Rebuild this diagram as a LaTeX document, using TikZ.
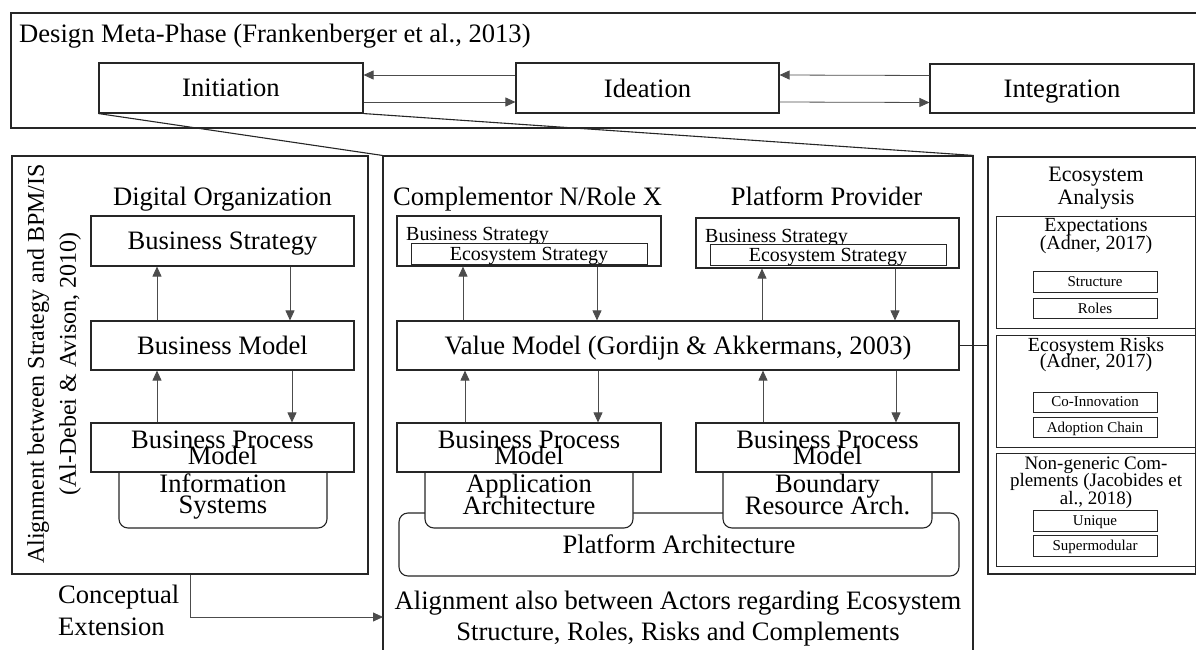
\documentclass[tikz,border=0pt]{standalone}
\usepackage{fontspec}
\setmainfont{Liberation Serif}
\usetikzlibrary{arrows.meta,positioning}
\lineskiplimit=-100pt
\tikzset{
  box/.style={draw=black!85,line width=1.1pt,fill=white,inner sep=0pt,align=center,text depth=0pt,font=\fontsize{26.6}{28}\selectfont},
  rbox/.style={box,rounded corners=9pt},
  sbox/.style={draw=black!85,line width=1pt,fill=white,inner sep=0pt,text depth=0pt,font=\fontsize{20}{22}\selectfont},
  tbox/.style={draw=black!85,line width=1pt,fill=white,inner sep=0pt,text depth=0pt,minimum width=124pt,font=\fontsize{15}{16}\selectfont},
  frame/.style={draw=black!85,line width=1.1pt,inner sep=0pt},
  arr/.style={-{Triangle[length=10pt,width=9pt]},line width=0.8pt,draw=black!70},
  lbl/.style={inner sep=0pt,font=\fontsize{26.6}{28}\selectfont},
}
\begin{document}
\begin{tikzpicture}[x=1pt,y=-1pt]
 \useasboundingbox (0,0) rectangle (1196,650);
 % ---- design meta-phase
 \node[frame,minimum width=1189pt,minimum height=115pt] (meta) at (605.5,70.5) {};
 \node[lbl,anchor=base west] (metattl) at (19,43) {Design Meta-Phase (Frankenberger et al., 2013)};
 \node[box,minimum width=264pt,minimum height=50pt] (init) at (231,88) {Initiation};
 \node[box,minimum width=263pt,minimum height=50pt] (idea) at (647.5,88) {Ideation};
 \node[box,minimum width=264pt,minimum height=49pt] (integ) at (1062,88.5) {Integration};
 \draw[arr] ([yshift=13pt]idea.west) -- ([yshift=13pt]init.east);
 \draw[arr] ([yshift=-14pt]init.east) -- ([yshift=-14pt]idea.west);
 \draw[arr] ([yshift=13pt]integ.west) -- ([yshift=13pt]idea.east);
 \draw[arr] ([yshift=-14pt]idea.east) -- ([yshift=-14pt]integ.west);
 % ---- frames
 \node[frame,minimum width=356pt,minimum height=418pt] (lft) at (190,365) {};
 \node[frame,minimum width=590pt,minimum height=544pt] (mid) at (678,428) {};
 \node[frame,minimum width=208pt,minimum height=417pt] (eco) at (1092,365.5) {};
 \draw[frame] (init.south west) -- (mid.north west);
 \draw[frame] (init.south east) -- (mid.north east);
 % ---- digital organization
 \node[lbl,rotate=90,align=center,font=\fontsize{24}{32}\selectfont] (lftttl) at (54,364) {Alignment between Strategy and BPM/IS\\(Al-Debei \& Avison, 2010)};
 \node[lbl,anchor=base] (dorg) at (222.5,205) {Digital Organization};
 \node[box,minimum width=263pt,minimum height=50pt] (bs1) at (222.5,241) {Business Strategy};
 \node[box,minimum width=263pt,minimum height=49pt] (bm1) at (222.5,345.5) {Business Model};
 \node[rbox,minimum width=208pt,minimum height=68pt,font=\fontsize{26.6}{21}\selectfont] (is1) at (223,494) {Information\\Systems};
 \node[box,minimum width=263pt,minimum height=49pt,font=\fontsize{26.6}{16}\selectfont] (bpm1) at (222.5,447.5) {Business Process\\Model};
 \draw[arr] ([xshift=-65.5pt]bm1.north) -- ([xshift=-65.5pt]bs1.south);
 \draw[arr] ([xshift=67.5pt]bs1.south) -- ([xshift=67.5pt]bm1.north);
 \draw[arr] ([xshift=-65.5pt]bpm1.north) -- ([xshift=-65.5pt]bm1.south);
 \draw[arr] ([xshift=69.5pt]bm1.south) -- ([xshift=69.5pt]bpm1.north);
 % ---- conceptual extension
 \node[lbl,anchor=west,align=left,font=\fontsize{26.6}{32}\selectfont] (cext) at (58,610) {Conceptual\\Extension};
 \coordinate (extin) at (383,617);
 \draw[arr] (lft.south) |- (extin);
 % ---- complementor / platform provider
 \node[lbl,anchor=base] (cmpttl) at (527.5,205) {Complementor N/Role X};
 \node[lbl,anchor=base] (ppttl) at (826.5,205) {Platform Provider};
 \node[box,minimum width=264pt,minimum height=50pt] (cbs) at (529,241) {};
 \node[anchor=base west,inner sep=0pt,font=\fontsize{20}{22}\selectfont] (cbstxt) at (406,240) {Business Strategy};
 \node[sbox,minimum width=236pt,minimum height=21pt] (ces) at (529,253.5) {Ecosystem Strategy};
 \node[box,minimum width=263pt,minimum height=50pt] (pbs) at (827.5,243) {};
 \node[anchor=base west,inner sep=0pt,font=\fontsize{20}{22}\selectfont] (pbstxt) at (705,242) {Business Strategy};
 \node[sbox,minimum width=236pt,minimum height=21pt] (pes) at (828,254.5) {Ecosystem Strategy};
 \node[box,minimum width=562pt,minimum height=49pt] (vm) at (678,345.5) {Value Model (Gordijn \& Akkermans, 2003)};
 \draw[arr] ([xshift=-215pt]vm.north) -- ([xshift=-66pt]cbs.south);
 \draw[arr] ([xshift=68pt]cbs.south) -- ([xshift=-81pt]vm.north);
 \draw[arr] ([xshift=84pt]vm.north) -- ([xshift=-65.5pt]pbs.south);
 \draw[arr] ([xshift=67.5pt]pbs.south) -- ([xshift=217pt]vm.north);
 \node[rbox,minimum width=560pt,minimum height=63pt] (plat) at (679,544.5) {Platform Architecture};
 \node[rbox,minimum width=208pt,minimum height=68pt,font=\fontsize{26.6}{22}\selectfont] (app) at (529,494) {Application\\Architecture};
 \node[rbox,minimum width=209pt,minimum height=68pt,font=\fontsize{26.6}{22}\selectfont] (bra) at (827.5,494) {Boundary\\Resource Arch.};
 \node[box,minimum width=264pt,minimum height=49pt,font=\fontsize{26.6}{16}\selectfont] (cbpm) at (529,447.5) {Business Process\\Model};
 \node[box,minimum width=263pt,minimum height=49pt,font=\fontsize{26.6}{16}\selectfont] (pbpm) at (827.5,447.5) {Business Process\\Model};
 \draw[arr] ([xshift=-64pt]cbpm.north) -- ([xshift=-213pt]vm.south);
 \draw[arr] ([xshift=-80pt]vm.south) -- ([xshift=69pt]cbpm.north);
 \draw[arr] ([xshift=-64.5pt]pbpm.north) -- ([xshift=85pt]vm.south);
 \draw[arr] ([xshift=218pt]vm.south) -- ([xshift=68.5pt]pbpm.north);
 \node[lbl,align=center,font=\fontsize{26.6}{31}\selectfont] (algn) at (678,619) {Alignment also between Actors regarding Ecosystem\\Structure, Roles, Risks and Complements};
 % ---- ecosystem analysis
 \node[lbl,align=center,font=\fontsize{22}{23}\selectfont] (ecottl) at (1096,188.5) {Ecosystem\\Analysis};
 \node[frame,line width=1pt,minimum width=199pt,minimum height=112pt] (exp) at (1095.5,272) {};
 \node[lbl,align=center,font=\fontsize{20}{18}\selectfont] (expttl) at (1096,236) {Expectations\\(Adner, 2017)};
 \node[tbox,minimum height=21pt] (struc) at (1095,281.5) {Structure};
 \node[tbox,minimum height=20pt] (roles) at (1095,308) {Roles};
 \node[frame,line width=1pt,minimum width=199pt,minimum height=112pt] (risk) at (1095.5,391) {};
 \node[lbl,align=center,font=\fontsize{20}{16}\selectfont] (riskttl) at (1096,355) {Ecosystem Risks\\(Adner, 2017)};
 \node[tbox,minimum height=20pt] (coinn) at (1095,402) {Co-Innovation};
 \node[tbox,minimum height=20pt] (adopt) at (1095,427) {Adoption Chain};
 \node[frame,line width=1pt,minimum width=199pt,minimum height=113pt] (nongen) at (1095.5,509.5) {};
 \node[lbl,align=center,font=\fontsize{19}{17.5}\selectfont] (nongttl) at (1096,482.5) {Non-generic Com-\\plements (Jacobides et\\al., 2018)};
 \node[tbox,minimum height=21pt] (uniq) at (1095,520.5) {Unique};
 \node[tbox,minimum height=21pt] (smod) at (1095,545.5) {Supermodular};
 \draw[frame,line width=0.8pt] (vm.east) -- (vm.east -| eco.west);
\end{tikzpicture}
\end{document}
